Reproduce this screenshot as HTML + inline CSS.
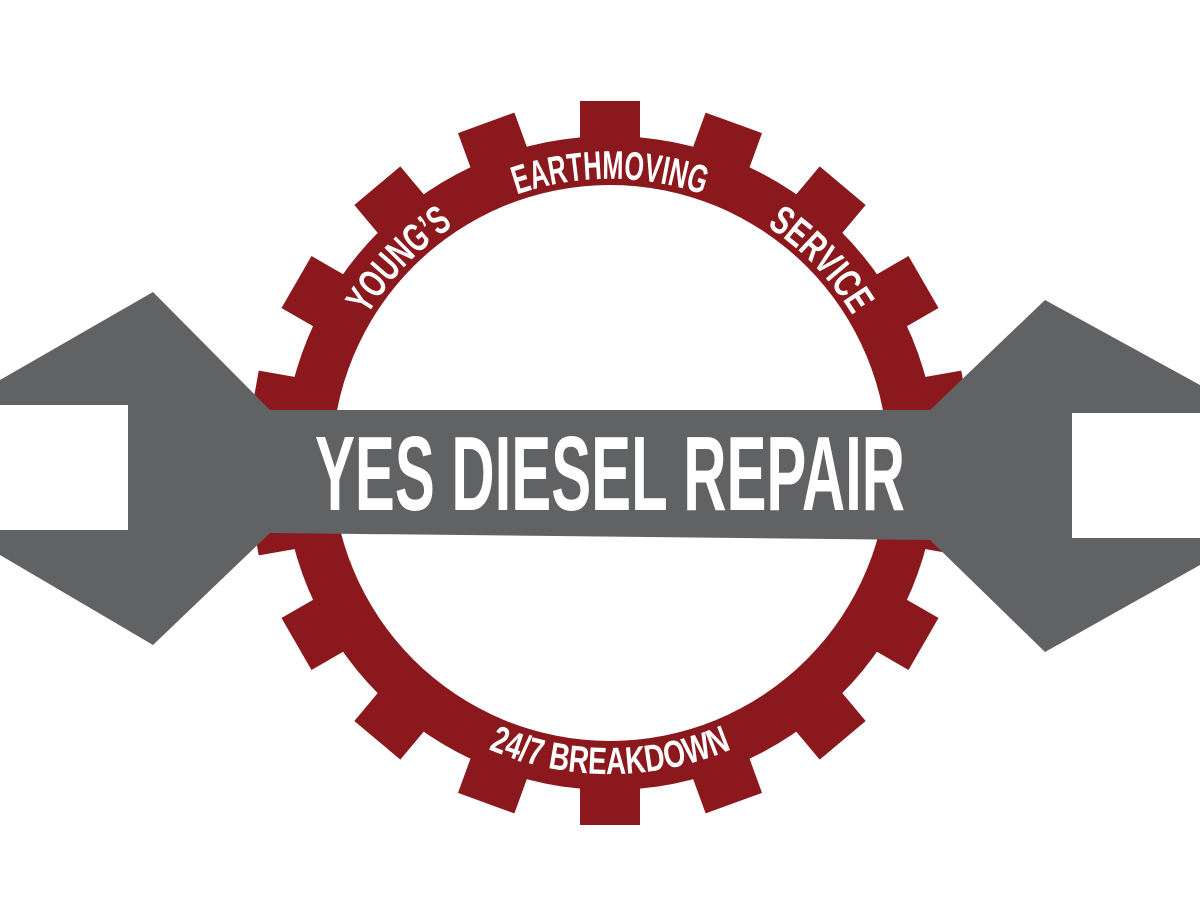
<!DOCTYPE html>
<html><head><style>html,body{margin:0;padding:0;background:#fff;width:1200px;height:900px;overflow:hidden}</style></head>
<body>
<svg width="1200" height="900" viewBox="0 0 1200 900" xmlns="http://www.w3.org/2000/svg">
<g transform="translate(610,463)" fill="#8a181c">
<circle r="327"/>
<g id="t"><rect x="-30" y="-362" width="60" height="45"/></g>
<use href="#t" transform="rotate(20)"/><use href="#t" transform="rotate(40)"/><use href="#t" transform="rotate(60)"/>
<use href="#t" transform="rotate(80)"/><use href="#t" transform="rotate(100)"/><use href="#t" transform="rotate(120)"/>
<use href="#t" transform="rotate(140)"/><use href="#t" transform="rotate(160)"/><use href="#t" transform="rotate(180)"/>
<use href="#t" transform="rotate(200)"/><use href="#t" transform="rotate(220)"/><use href="#t" transform="rotate(240)"/>
<use href="#t" transform="rotate(260)"/><use href="#t" transform="rotate(280)"/><use href="#t" transform="rotate(300)"/>
<use href="#t" transform="rotate(320)"/><use href="#t" transform="rotate(340)"/>
<circle r="278" fill="#fff"/>
</g>
<defs>
<path id="top" d="M 326,463 A 284 284 0 1 1 894,463 A 284 284 0 1 1 326,463"/>
<path id="bot" d="M 299,463 A 311 311 0 0 0 921,463"/>
</defs>
<g fill="#fff" font-family="'Liberation Sans Narrow','Liberation Sans',sans-serif" font-weight="bold" font-size="40">
<text text-anchor="middle"><textPath href="#top" startOffset="25%" textLength="190" lengthAdjust="spacingAndGlyphs">EARTHMOVING</textPath></text>
<text text-anchor="middle"><textPath href="#top" startOffset="12.2%" textLength="125" lengthAdjust="spacingAndGlyphs">YOUNG’S</textPath></text>
<text text-anchor="middle"><textPath href="#top" startOffset="37.8%" textLength="125" lengthAdjust="spacingAndGlyphs">SERVICE</textPath></text>
<text text-anchor="middle" font-size="38"><textPath href="#bot" startOffset="50%" textLength="250" lengthAdjust="spacingAndGlyphs">24/7 BREAKDOWN</textPath></text>
</g>
<g fill="#616264">
<polygon points="0,380 153,292 270,410 930,410 1045,300 1200,385 1200,413 1072,413 1072,538 1200,538 1200,565 1045,652 930,540 270,533 153,645 0,555 0,530 128,530 128,405 0,405"/>
</g>
<text x="315" y="510" fill="#fff" font-family="'Liberation Sans Narrow','Liberation Sans',sans-serif" font-weight="bold" font-size="106" textLength="590" lengthAdjust="spacingAndGlyphs">YES DIESEL REPAIR</text>
</svg>
</body></html>
